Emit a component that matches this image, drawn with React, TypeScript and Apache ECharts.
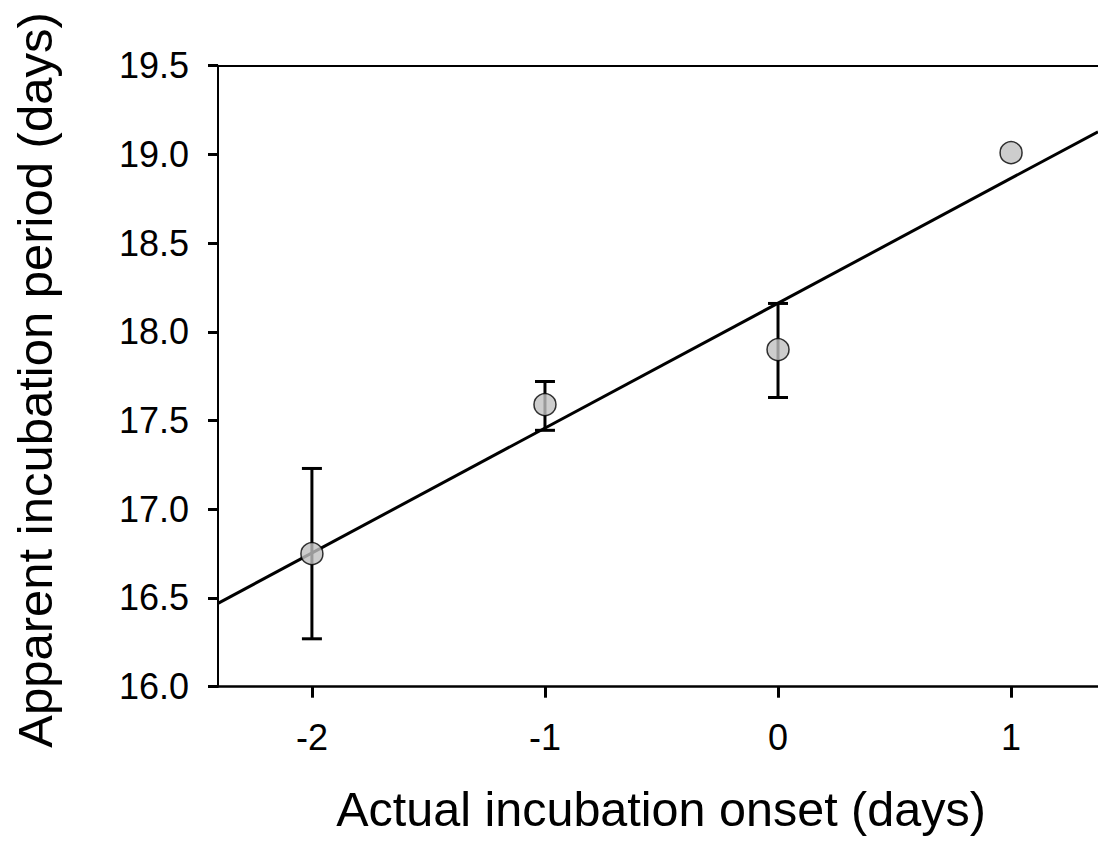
import React, { useEffect, useRef } from "react";
import * as echarts from "echarts";

const onsetDays = [-2, -1, 0, 1];
const meanPeriod = [16.75, 17.59, 17.9, 19.01];
const errLow = [16.27, 17.445, 17.63, 19.01];
const errHigh = [17.23, 17.72, 18.16, 19.01];
const fitX = [-2.403, 1.373];
const fitY = [16.47, 19.128];
const xTicks = [-2, -1, 0, 1];
const yMin = 16;
const yMax = 19.5;
const yStep = 0.5;
const xTitle = "Actual incubation onset (days)";
const yTitle = "Apparent incubation period (days)";

const FONT = '"Liberation Sans", Arial, Helvetica, sans-serif';

export default function App() {
  const ref = useRef<HTMLDivElement>(null);
  useEffect(() => {
    if (!ref.current) return;
    const chart = echarts.init(ref.current, null, { renderer: "svg" });
    const errData = onsetDays
      .map((x, i) => [x, errLow[i], errHigh[i]])
      .filter((d) => d[2] > d[1]);
    chart.setOption({
      animation: false,
      backgroundColor: "#ffffff",
      grid: {
        left: 218,
        top: 65.7,
        right: 0,
        bottom: 155.3,
        containLabel: false,
        outerBoundsMode: "none",
      },
      xAxis: [
        {
          type: "value",
          min: fitX[0],
          max: fitX[1],
          position: "bottom",
          splitLine: { show: false },
          axisLine: { show: true, onZero: false, lineStyle: { color: "#000", width: 2.5 } },
          axisTick: {
            show: true,
            inside: false,
            length: 11,
            customValues: xTicks,
            lineStyle: { color: "#000", width: 3 },
          },
          axisLabel: {
            show: true,
            customValues: xTicks,
            margin: 33,
            fontSize: 36,
            fontFamily: FONT,
            color: "#000",
          },
        },
        {
          type: "value",
          min: fitX[0],
          max: fitX[1],
          position: "top",
          splitLine: { show: false },
          axisLine: { show: true, onZero: false, lineStyle: { color: "#000", width: 2 } },
          axisTick: { show: false },
          axisLabel: { show: false },
        },
      ],
      yAxis: {
        type: "value",
        min: yMin,
        max: yMax,
        interval: yStep,
        splitLine: { show: false },
        axisLine: { show: true, onZero: false, lineStyle: { color: "#000", width: 2 } },
        axisTick: { show: true, length: 10, lineStyle: { color: "#000", width: 3 } },
        axisLabel: {
          margin: 29,
          fontSize: 36,
          fontFamily: FONT,
          color: "#000",
          formatter: (v: number) => v.toFixed(1),
        },
      },
      series: [
        {
          type: "line",
          data: fitX.map((x, i) => [x, fitY[i]]),
          symbol: "none",
          lineStyle: { color: "#000", width: 3 },
          z: 2,
        },
        {
          type: "custom",
          data: errData,
          z: 3,
          renderItem: (params: any, api: any) => {
            const x = api.value(0);
            const lo = api.coord([x, api.value(1)]);
            const hi = api.coord([x, api.value(2)]);
            const w = 10;
            const st = { stroke: "#000", lineWidth: 3 };
            return {
              type: "group",
              children: [
                { type: "line", shape: { x1: hi[0], y1: hi[1], x2: lo[0], y2: lo[1] }, style: st },
                { type: "line", shape: { x1: hi[0] - w, y1: hi[1], x2: hi[0] + w, y2: hi[1] }, style: st },
                { type: "line", shape: { x1: lo[0] - w, y1: lo[1], x2: lo[0] + w, y2: lo[1] }, style: st },
              ],
            };
          },
        },
        {
          type: "scatter",
          data: onsetDays.map((x, i) => [x, meanPeriod[i]]),
          symbol: "circle",
          symbolSize: 22,
          itemStyle: { color: "#c0c0c0", borderColor: "#000", borderWidth: 1.5 },
          z: 4,
        },
      ],
      graphic: [
        {
          type: "text",
          x: 661,
          y: 809,
          style: {
            text: xTitle,
            font: `48.5px ${FONT}`,
            fill: "#000",
            textAlign: "center",
            textVerticalAlign: "middle",
          },
        },
        {
          type: "text",
          x: 35,
          y: 380,
          rotation: Math.PI / 2,
          style: {
            text: yTitle,
            font: `49px ${FONT}`,
            fill: "#000",
            textAlign: "center",
            textVerticalAlign: "middle",
          },
        },
      ],
    });
    return () => chart.dispose();
  }, []);
  return (
    <div
      ref={ref}
      style={{ position: "fixed", left: 0, top: 0, width: 1098, height: 842, background: "#fff" }}
    />
  );
}
